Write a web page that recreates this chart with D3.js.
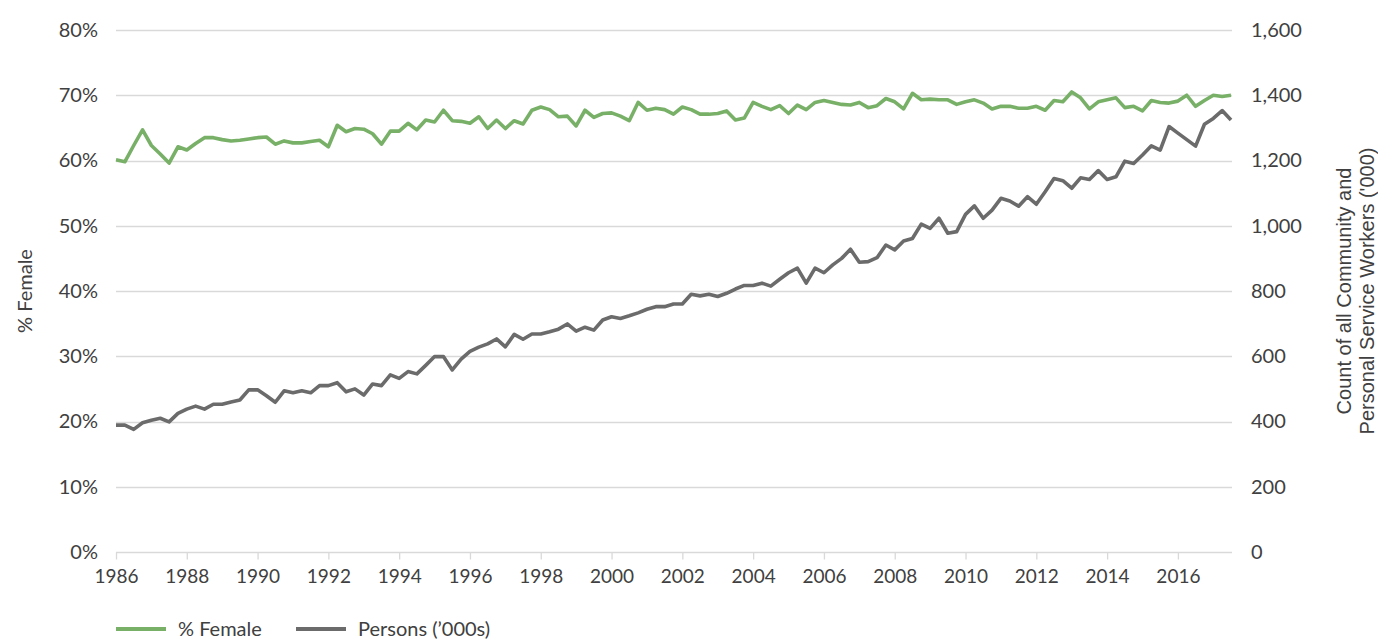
<!DOCTYPE html>
<html>
<head>
<meta charset="utf-8">
<script src="https://cdn.jsdelivr.net/npm/d3@7"></script>
<style>
  html, body { margin: 0; padding: 0; background: #fff; }
  svg text { font-family: Lato, "Open Sans", sans-serif; fill: #404040; }
</style>
</head>
<body>
<svg id="chart" width="1378" height="639"></svg>
<script>
// ---- data (quarterly, starting 1986) ----
const startYear = 1986;
const femalePct = [
  60.1, 59.8, 62.3, 64.7, 62.3, 61.0, 59.6, 62.1, 61.6, 62.6, 63.5, 63.5, 63.2, 63.0, 63.1, 63.3,
  63.5, 63.6, 62.5, 63.0, 62.7, 62.7, 62.9, 63.1, 62.1, 65.4, 64.4, 64.9, 64.8, 64.1, 62.5, 64.5,
  64.5, 65.7, 64.7, 66.2, 65.9, 67.7, 66.1, 66.0, 65.7, 66.7, 64.9, 66.2, 64.9, 66.1, 65.6, 67.7,
  68.2, 67.8, 66.7, 66.8, 65.3, 67.7, 66.6, 67.2, 67.3, 66.8, 66.1, 68.9, 67.7, 68.0, 67.8, 67.1,
  68.2, 67.8, 67.1, 67.1, 67.2, 67.6, 66.2, 66.5, 68.9, 68.3, 67.8, 68.4, 67.2, 68.5, 67.8, 68.9,
  69.2, 68.9, 68.6, 68.5, 68.9, 68.1, 68.4, 69.5, 69.0, 67.9, 70.3, 69.3, 69.4, 69.3, 69.3, 68.6,
  69.0, 69.3, 68.8, 67.9, 68.3, 68.3, 68.0, 68.0, 68.3, 67.7, 69.2, 69.0, 70.5, 69.6, 67.9, 69.0,
  69.3, 69.6, 68.1, 68.3, 67.6, 69.2, 68.9, 68.8, 69.1, 70.0, 68.3, 69.2, 70.0, 69.8, 70.0
];
const persons = [
  389, 389, 376, 396, 404, 410, 399, 425, 438, 447, 438, 453, 453, 460, 466, 497,
  497, 479, 459, 494, 488, 494, 488, 510, 510, 519, 491, 500, 481, 515, 510, 543,
  532, 553, 546, 572, 599, 599, 558, 591, 615, 628, 638, 653, 629, 667, 652, 668,
  668, 675, 683, 699, 677, 689, 680, 711, 721, 716, 724, 733, 744, 752, 752, 760,
  760, 790, 785, 790, 783, 793, 806, 817, 817, 824, 815, 836, 856, 870, 824, 870,
  856, 880, 900, 928, 888, 890, 902, 941, 926, 953, 961, 1005, 992, 1023, 977, 982,
  1035, 1061, 1023, 1048, 1084, 1076, 1060, 1089, 1066, 1104, 1145, 1138, 1115, 1147, 1142, 1169,
  1142, 1150, 1198, 1191, 1217, 1245, 1232, 1304, 1284, 1264, 1244, 1311, 1329, 1353, 1324
];
const xTickYears = [1986, 1988, 1990, 1992, 1994, 1996, 1998, 2000, 2002, 2004, 2006, 2008, 2010, 2012, 2014, 2016];
const leftTicks = [0, 10, 20, 30, 40, 50, 60, 70, 80];
const rightTicks = [0, 200, 400, 600, 800, 1000, 1200, 1400, 1600];
const seriesNames = ["% Female", "Persons (\u2019000s)"];
const leftTitle = "% Female";
const rightTitle = ["Count of all Community and", "Personal Service Workers ('000)"];

const dates = femalePct.map((_, i) => startYear + i * 0.25);

// ---- layout ----
const svg = d3.select("#chart");
const mLeft = 116, mRight = 1231, mTop = 30, mBottom = 552;
const x = d3.scaleLinear().domain([startYear, dates[dates.length - 1]]).range([mLeft, mRight]);
const yL = d3.scaleLinear().domain([0, 80]).range([mBottom, mTop]);
const yR = d3.scaleLinear().domain([0, 1600]).range([mBottom, mTop]);
const green = "#78b068", grey = "#6b6b6b", gridC = "#d9d9d9";
const fontSize = 20;

// gridlines
svg.append("g").selectAll("line").data(leftTicks).join("line")
  .attr("x1", mLeft).attr("x2", mRight + 1)
  .attr("y1", d => Math.round(yL(d)) + 0.5).attr("y2", d => Math.round(yL(d)) + 0.5)
  .attr("stroke", gridC).attr("stroke-width", 1.3);

// x axis
const xAxis = d3.axisBottom(x).tickValues(xTickYears).tickFormat(d3.format("d")).tickSize(7).tickPadding(10);
const gx = svg.append("g").attr("transform", `translate(0,${mBottom + 0.5})`).call(xAxis);
gx.select(".domain").remove();
gx.selectAll(".tick line").attr("stroke", gridC).attr("stroke-width", 1.3);
gx.selectAll(".tick text").attr("font-size", 19).attr("fill", "#404040").attr("font-family", "Lato");

// left axis
const gl = svg.append("g").attr("transform", `translate(${mLeft},0)`)
  .call(d3.axisLeft(yL).tickValues(leftTicks).tickFormat(d => d + "%").tickSize(0).tickPadding(18));
gl.select(".domain").remove();
gl.selectAll(".tick text").attr("font-size", fontSize).attr("fill", "#404040").attr("font-family", "Lato");

// right axis
const gr = svg.append("g").attr("transform", `translate(${mRight},0)`)
  .call(d3.axisRight(yR).tickValues(rightTicks).tickFormat(d3.format(",")).tickSize(0).tickPadding(20));
gr.select(".domain").remove();
gr.selectAll(".tick text").attr("font-size", fontSize).attr("fill", "#404040").attr("font-family", "Lato");

// axis titles
svg.append("text").attr("transform", `translate(32,${(mTop + mBottom) / 2}) rotate(-90)`)
  .attr("text-anchor", "middle").attr("font-size", fontSize).text(leftTitle);
const rt = svg.append("text").attr("transform", `translate(1351,${(mTop + mBottom) / 2}) rotate(-90)`)
  .attr("text-anchor", "middle").attr("font-size", 20)
  .style("font-family", "'Liberation Sans', Arial, sans-serif");
rt.selectAll("tspan").data(rightTitle).join("tspan")
  .attr("x", 0).attr("dy", (d, i) => i === 0 ? 0 : 23).text(d => d);

// lines
const lineL = d3.line().x((d, i) => x(dates[i])).y(d => yL(d));
const lineR = d3.line().x((d, i) => x(dates[i])).y(d => yR(d));
svg.append("path").datum(persons).attr("d", lineR)
  .attr("fill", "none").attr("stroke", grey).attr("stroke-width", 3.6).attr("stroke-linejoin", "round");
svg.append("path").datum(femalePct).attr("d", lineL)
  .attr("fill", "none").attr("stroke", green).attr("stroke-width", 3.6).attr("stroke-linejoin", "round");

// legend
const legend = [
  { name: seriesNames[0], color: green, x0: 116 },
  { name: seriesNames[1], color: grey, x0: 296 }
];
const lg = svg.append("g").selectAll("g").data(legend).join("g")
  .attr("transform", d => `translate(${d.x0},629)`);
lg.append("line").attr("x1", 0).attr("x2", 50).attr("y1", 0).attr("y2", 0)
  .attr("stroke", d => d.color).attr("stroke-width", 4);
lg.append("text").attr("x", 62).attr("y", 0).attr("dy", "0.35em").attr("font-size", fontSize).text(d => d.name);
</script>
</body>
</html>
